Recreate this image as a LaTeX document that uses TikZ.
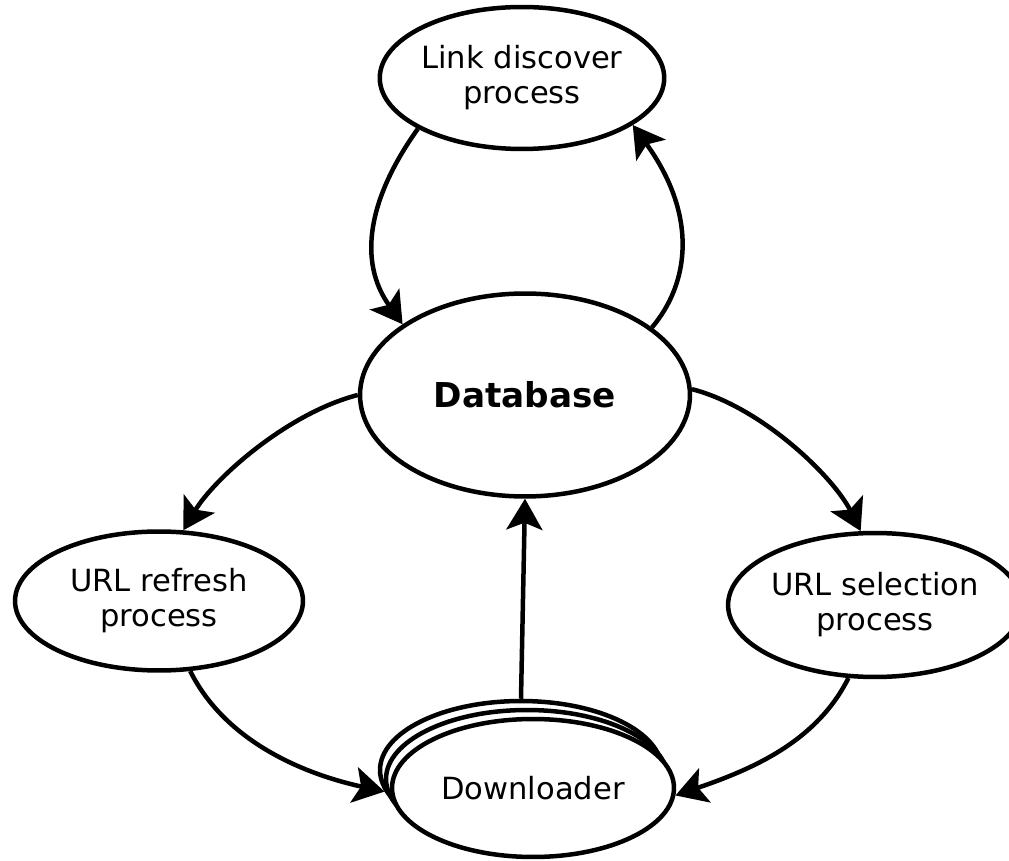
\documentclass[tikz,border=0pt]{standalone}
\usepackage{fontspec}
\setmainfont{DejaVu Sans}
\usetikzlibrary{shapes.geometric,arrows.meta}
\begin{document}
\begin{tikzpicture}[x=0.02cm,y=-0.02cm,
  proc/.style={ellipse, draw, line width=0.09cm, fill=white, inner sep=0pt,
    align=center, font=\fontsize{17.4}{19.9}\selectfont},
  flow/.style={line width=0.09cm,
    -{Stealth[length=0.62cm,width=0.72cm,inset=0.14cm]}}]
\useasboundingbox (0,0) rectangle (1009,861);

% process nodes
\node[proc, minimum width=5.68cm, minimum height=2.84cm] (ld) at (522,78)
  {Link discover\\process};
\node[proc, minimum width=6.6cm, minimum height=4.06cm,
  font=\fontsize{19.5}{22}\selectfont\bfseries] (db) at (525,395) {Database};
\node[proc, minimum width=5.76cm, minimum height=2.78cm] (ur) at (159,601)
  {URL refresh\\process};
\node[proc, minimum width=5.6cm, minimum height=2.88cm] (us) at (875,605)
  {URL selection\\process};

% stacked downloaders
\node[proc, minimum width=5.64cm, minimum height=2.76cm] (dl3) at (521,770) {};
\node[proc, minimum width=5.64cm, minimum height=2.76cm] (dl2) at (527,779) {};
\node[proc, minimum width=5.64cm, minimum height=2.76cm] (dl) at (533,788)
  {Downloader};

% connectors
\draw[flow] (ld.206) .. controls +(-50,70) and +(-45,-63) .. (db.150);
\draw[flow] (db.28.5) .. controls +(38,-45) and +(65,90) .. (ld.337);
\draw[flow] (db.180) .. controls +(-70,18) and +(31,-52) .. (ur.71);
\draw[flow] (db.2.4) .. controls +(70,18) and +(-27,-54) .. (us.101.5);
\draw[flow] (dl3.north) -- (db.south);
\draw[flow] (ur.294) .. controls +(36,72) and +(-78,-17) .. (dl3.189);
\draw[flow] (us.250) .. controls +(-32,64) and +(76,-26) .. (dl.-3.5);
\end{tikzpicture}
\end{document}
